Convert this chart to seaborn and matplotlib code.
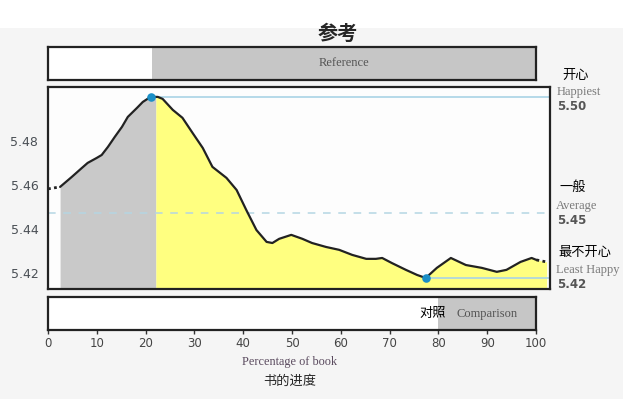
import matplotlib
matplotlib.use("Agg")
import matplotlib.pyplot as plt
import numpy as np
import pandas as pd
import seaborn as sns
from matplotlib.patches import Rectangle

sns.set_theme(style="white")
plt.rcParams["font.family"] = ["DejaVu Sans", "Noto Sans CJK SC"]

# happiness curve (percentage of book, score)
pct = [0.0, 2.5, 4.9, 7.0, 8.2, 10.1, 11.1, 12.4, 13.8, 15.3, 16.5, 18.4, 19.6,
       21.2, 22.7, 23.7, 25.8, 27.8, 29.9, 32.0, 34.0, 36.9, 39.0, 41.0, 43.1,
       45.2, 46.4, 47.8, 50.3, 52.6, 54.6, 57.5, 60.2, 62.9, 65.8, 67.8, 69.1,
       71.1, 74.0, 76.3, 78.1, 80.4, 83.3, 86.4, 89.7, 92.8, 94.8, 97.7, 100.0,
       101.0, 103.1]
happiness = [5.4582, 5.4591, 5.4636, 5.4677, 5.4700, 5.4723, 5.4736, 5.4773,
             5.4818, 5.4864, 5.4909, 5.4950, 5.4977, 5.5000, 5.5000, 5.4991,
             5.4941, 5.4905, 5.4836, 5.4768, 5.4682, 5.4632, 5.4577, 5.4486,
             5.4395, 5.4341, 5.4336, 5.4355, 5.4373, 5.4355, 5.4336, 5.4318,
             5.4305, 5.4282, 5.4264, 5.4264, 5.4268, 5.4245, 5.4214, 5.4191,
             5.4177, 5.4223, 5.4268, 5.4236, 5.4223, 5.4205, 5.4214, 5.4250,
             5.4268, 5.4259, 5.4250]
solid_range = (2.5, 101.0)
current_split = 22.3
average_value = 5.4473
reference_window = (21.4, 100)
comparison_window = (80, 100)
y_ticks = [5.42, 5.44, 5.46, 5.48]
x_ticks = [0, 10, 20, 30, 40, 50, 60, 70, 80, 90, 100]

df = pd.DataFrame({"pct": pct, "happiness": happiness})
solid = df[(df.pct >= solid_range[0]) & (df.pct <= solid_range[1])]
head = df[df.pct <= solid_range[0]]
tail = df[df.pct >= solid_range[1]]

W, H = 623, 399
fig = plt.figure(figsize=(W / 100, H / 100), dpi=100)
fig.patch.set_facecolor("#f5f5f5")
fig.patches.append(Rectangle((0, 1 - 28 / H), 1, 28 / H, transform=fig.transFigure,
                             facecolor="white", edgecolor="none", zorder=0))


def box(x0, y0, x1, y1):
    return [x0 / W, 1 - y1 / H, (x1 - x0) / W, (y1 - y0) / H]


ax_ref = fig.add_axes(box(48, 47, 536, 80))
ax = fig.add_axes(box(48, 87, 550, 289))
ax_cmp = fig.add_axes(box(48, 297, 536, 330))

ylim = (5.4127, 5.5045)
xlim_main = (0, 103.8)

# main panel
ax.set_facecolor("#fdfdfd")
x_arr = np.array(pct)
y_arr = np.array(happiness)
split_val = np.interp(current_split, x_arr, y_arr)
start_val = np.interp(solid_range[0], x_arr, y_arr)
inside = (x_arr > solid_range[0]) & (x_arr < current_split)
gx = np.concatenate([[solid_range[0]], x_arr[inside], [current_split]])
gy = np.concatenate([[start_val], y_arr[inside], [split_val]])
ax.fill_between(gx, gy, ylim[0], color="#c9c9c9", lw=0, zorder=1)
yx = np.concatenate([[current_split], x_arr[x_arr > current_split]])
yy = np.concatenate([[split_val], y_arr[x_arr > current_split]])
ax.fill_between(yx, yy, ylim[0], color="#ffff80", lw=0, zorder=1)

peak_i = int(np.argmax(y_arr))
low_i = int(np.argmin(y_arr))
peak_x, peak_y = pct[peak_i], happiness[peak_i]
low_x, low_y = pct[low_i], happiness[low_i]

line_blue = "#a9d3e6"
ax.plot([peak_x, xlim_main[1]], [peak_y, peak_y], color=line_blue, lw=1.2, zorder=2)
ax.plot([low_x, xlim_main[1]], [low_y, low_y], color=line_blue, lw=1.2, zorder=2)
ax.axhline(average_value, color="#b5d6e3", lw=1.1, ls=(0, (5, 5)), zorder=2)

sns.lineplot(data=solid, x="pct", y="happiness", ax=ax, color="#222222", lw=1.6,
             estimator=None, sort=False, zorder=3)
ax.plot(head.pct, head.happiness, color="#222222", lw=2, ls=(0, (1, 1.2)), zorder=3)
ax.plot(tail.pct, tail.happiness, color="#222222", lw=2, ls=(0, (1, 1.2)), zorder=3)
ax.scatter([peak_x, low_x], [peak_y, low_y], s=38, color="#1b8fc6", zorder=4, lw=0)

ax.set_xlim(*xlim_main)
ax.set_ylim(*ylim)
ax.set_yticks(y_ticks)
ax.set_yticklabels([f"{v:.2f}" for v in y_ticks], fontsize=9, color="#4a4f55")
ax.tick_params(axis="y", length=0, pad=7)
ax.set_xticks([])
ax.set_xlabel("")
ax.set_ylabel("")

serif = ["Liberation Serif", "DejaVu Serif"]
cjk = ["Noto Sans CJK SC", "DejaVu Sans"]
side = [
    ("开心", "Happiest", peak_y, 15.8, 3.6, -7.2, 8.6),
    ("一般", "Average", average_value, 18.7, 5.0, -5.8, 7.0),
    ("最不开心", "Least Happy", low_y, 18.7, 5.8, -5.0, 5.8),
]
for zh, en, val, dz, de, dv, xz in side:
    kw = dict(xy=(1, val), xycoords=("axes fraction", "data"), textcoords="offset points",
              va="center", ha="left", annotation_clip=False)
    ax.annotate(zh, xytext=(xz, dz), fontsize=9.5, color="black", family=cjk, **kw)
    ax.annotate(en, xytext=(4.5, de), fontsize=9, color="#7a7a7a", family=serif, **kw)
    ax.annotate(f"{val:.2f}", xytext=(5, dv), fontsize=8.5, color="#555555",
                fontweight="bold", **kw)

# reference / comparison panels
for a, win, label in [(ax_ref, reference_window, "Reference"), (ax_cmp, comparison_window, "Comparison")]:
    a.set_facecolor("white")
    a.set_xlim(0, 100)
    a.set_ylim(0, 1)
    a.axvspan(win[0], win[1], color="#c6c6c6", lw=0)
    a.text((win[0] + win[1]) / 2, 0.5, label, ha="center", va="center",
           fontsize=9, color="#555555", family=serif)
    a.set_yticks([])

ax_ref.set_xticks([])
ax_cmp.text(comparison_window[0] - 1.2, 0.5, "对照", ha="center", va="center",
            fontsize=9.5, color="black", family=cjk)
ax_cmp.set_xticks(x_ticks)
ax_cmp.set_xticklabels([str(t) for t in x_ticks], fontsize=8.5, color="#444444")
ax_cmp.tick_params(axis="x", bottom=True, length=3, width=1, color="#333333", pad=2)

for a in (ax_ref, ax, ax_cmp):
    for s in a.spines.values():
        s.set_visible(True)
        s.set_color("#222222")
        s.set_linewidth(1.6)
        s.set_zorder(5)

fig.text(338 / W, 1 - 33 / H, "参考", ha="center", va="center", fontsize=14.5,
         fontweight="bold", family=cjk)
fig.text(290 / W, 1 - 362 / H, "Percentage of book", ha="center", va="center",
         fontsize=8.8, color="#5a4a5e", family=serif)
fig.text(290 / W, 1 - 381 / H, "书的进度", ha="center", va="center", fontsize=9.5,
         family=cjk)

fig.savefig("out.png", dpi=100, facecolor=fig.get_facecolor())
